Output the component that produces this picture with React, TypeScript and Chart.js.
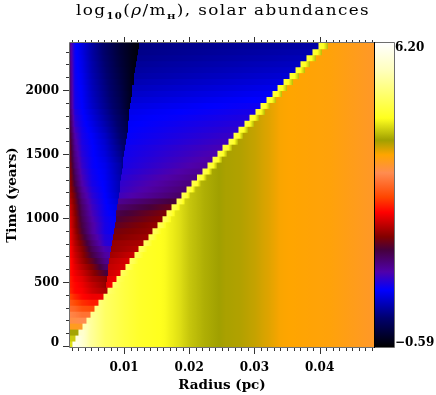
import React, { useEffect, useRef } from "react";
import { Chart, registerables } from "chart.js";

Chart.register(...registerables);

// Time of each simulation output (years), bottom row first
const rowTimes = [
  23.3, 69.9, 116.5, 163.1, 209.7, 256.3, 302.9, 349.5, 396.1, 442.7,
  489.3, 535.9, 582.5, 629.1, 675.7, 722.3, 768.9, 815.5, 862.1, 908.7,
  955.3, 1001.9, 1048.5, 1095.1, 1141.7, 1188.3, 1234.9, 1281.5, 1328.1, 1374.7,
  1421.3, 1467.9, 1514.5, 1561.1, 1607.7, 1654.3, 1700.9, 1747.5, 1794.1, 1840.7,
  1887.3, 1933.9, 1980.5, 2027.1, 2073.7, 2120.3, 2166.9, 2213.5, 2260.1, 2306.7, 2353.3,
];

// Shock radius per row (pc)
const shockRadius = [
  0.00202, 0.00248, 0.00294, 0.00356, 0.00417, 0.00479, 0.0054, 0.00601, 0.00678, 0.00739,
  0.00816, 0.00877, 0.00939, 0.01015, 0.01077, 0.01153, 0.01215, 0.01291, 0.01368, 0.01429,
  0.01506, 0.01583, 0.01644, 0.01721, 0.01798, 0.01874, 0.01951, 0.02028, 0.02112, 0.02196,
  0.02273, 0.0235, 0.02426, 0.02503, 0.02595, 0.02672, 0.02748, 0.0284, 0.02917, 0.03009,
  0.03086, 0.03178, 0.0327, 0.03347, 0.03439, 0.03531, 0.03623, 0.03699, 0.03791, 0.03883, 0.03975,
];

// Density just behind the shock, at the bright front cell
const shockPeak = [
  6.1, 5.9, 5.7, 5.5, 5.4, 5.3, 5.2, 5.2, 5.1, 5.1,
  5.1, 5.0, 5.0, 5.0, 5.0, 5.0, 5.0, 5.0, 4.95, 4.95,
  4.95, 4.95, 4.9, 4.9, 4.9, 4.9, 4.85, 4.85, 4.85, 4.85,
  4.8, 4.8, 4.8, 4.8, 4.8, 4.8, 4.75, 4.75, 4.75, 4.75,
  4.75, 4.75, 4.75, 4.7, 4.7, 4.7, 4.7, 4.7, 4.7, 4.7, 4.7,
];

// Contact discontinuity radius (pc), rows 10 and up
const contactRadius = [
  0.00724, 0.00739, 0.00755, 0.00762, 0.0077, 0.00785, 0.00801, 0.00816, 0.00831, 0.00847,
  0.00862, 0.0087, 0.00877, 0.00893, 0.00908, 0.00923, 0.00939, 0.00946, 0.00954, 0.00969,
  0.00985, 0.00992, 0.01, 0.01015, 0.01031, 0.01046, 0.01054, 0.01061, 0.01077, 0.01084,
  0.01092, 0.01107, 0.01123, 0.0113, 0.01146, 0.01161, 0.01176, 0.01184, 0.01199, 0.01215, 0.0123,
];
const contactIn = [
  1.9, 1.85, 1.55, 1.35, 1.2, 1.1, 1.0, 0.85, 0.8, 0.72,
  0.7, 0.68, 0.62, 0.55, 0.48, 0.4, 0.35, 0.3, 0.25, 0.2,
  0.15, 0.1, 0.05, 0, -0.05, -0.1, -0.15, -0.2, -0.27, -0.33,
  -0.4, -0.42, -0.44, -0.46, -0.48, -0.5, -0.51, -0.52, -0.53, -0.54, -0.55,
];
const shellOut = [
  2.3, 2.3, 2.2, 2.15, 2.1, 2.0, 1.95, 1.95, 1.85, 1.8,
  1.7, 1.6, 1.5, 1.35, 1.2, 1.0, 0.95, 0.92, 0.88, 0.84,
  0.8, 0.78, 0.76, 0.75, 0.72, 0.7, 0.68, 0.66, 0.63, 0.6,
  0.55, 0.5, 0.45, 0.4, 0.35, 0.3, 0.27, 0.24, 0.2, 0.17, 0.15,
];
const shellIn = [
  2.4, 2.35, 2.3, 2.25, 2.25, 2.2, 2.1, 2.05, 2.0, 1.95,
  1.95, 1.9, 1.85, 1.75, 1.6, 1.4, 1.35, 1.3, 1.25, 1.2,
  1.15, 1.12, 1.08, 1.05, 1.0, 0.96, 0.92, 0.88, 0.84, 0.8,
  0.75, 0.7, 0.65, 0.6, 0.55, 0.5, 0.46, 0.42, 0.38, 0.34, 0.3,
];

// Inner (free wind) density per row at fixed radii
const innerRadii = [0.00172, 0.00248, 0.00356, 0.0051, 0.00709, 0.00939];
const innerRows = [
  [4.35], [4.25, 4.25], [4.05, 4.05], [3.55, 3.55, 3.5], [3.35, 3.35, 3.3],
  [3.25, 3.2, 3.1], [3.05, 3, 2.85, 2.8], [2.9, 2.8, 2.65, 2.55], [2.75, 2.6, 2.45, 2.35], [2.6, 2.45, 2.4, 2.2, 2.05],
  [2.55, 2.45, 2.35, 2.15, 1.95], [2.55, 2.4, 2.3, 2.05, 1.9], [2.5, 2.35, 2.2, 1.95, 1.6], [2.5, 2.3, 2.1, 1.85, 1.4], [2.5, 2.25, 2, 1.7, 1.25],
  [2.45, 2.2, 1.95, 1.55, 1.15], [2.45, 2.15, 1.9, 1.45, 1.05], [2.4, 2.1, 1.8, 1.35, 0.9], [2.35, 2.05, 1.7, 1.25, 0.85], [2.35, 2, 1.6, 1.15, 0.8],
  [2.3, 1.95, 1.55, 1.15, 0.8], [2.28, 1.95, 1.5, 1.1, 0.78], [2.25, 1.9, 1.45, 1.05, 0.75], [2.2, 1.85, 1.4, 1, 0.72], [2.12, 1.8, 1.33, 0.95, 0.7],
  [2.05, 1.75, 1.25, 0.9, 0.68], [2, 1.65, 1.18, 0.85, 0.66, 0.4], [1.97, 1.55, 1.1, 0.8, 0.65, 0.35], [1.93, 1.48, 1.05, 0.77, 0.63, 0.33], [1.9, 1.42, 1, 0.75, 0.62, 0.3],
  [1.85, 1.35, 0.95, 0.72, 0.6, 0.3], [1.8, 1.3, 0.92, 0.72, 0.57, 0.25], [1.78, 1.25, 0.88, 0.7, 0.53, 0.2], [1.75, 1.2, 0.85, 0.7, 0.5, 0.15], [1.7, 1.15, 0.82, 0.68, 0.47, 0.1],
  [1.65, 1.1, 0.8, 0.66, 0.43, 0.06], [1.6, 1.02, 0.78, 0.62, 0.38, 0.03], [1.55, 0.95, 0.75, 0.58, 0.33, 0], [1.5, 0.9, 0.73, 0.54, 0.28, -0.03], [1.45, 0.85, 0.7, 0.5, 0.24, -0.07],
  [1.4, 0.8, 0.68, 0.45, 0.2, -0.1], [1.39, 0.79, 0.67, 0.43, 0.18, -0.12], [1.38, 0.78, 0.66, 0.41, 0.16, -0.14], [1.37, 0.77, 0.65, 0.39, 0.14, -0.16], [1.36, 0.76, 0.63, 0.37, 0.12, -0.18],
  [1.35, 0.75, 0.62, 0.35, 0.1, -0.2], [1.33, 0.74, 0.6, 0.33, 0.08, -0.22], [1.31, 0.74, 0.59, 0.32, 0.06, -0.24], [1.29, 0.73, 0.58, 0.3, 0.04, -0.25], [1.27, 0.73, 0.56, 0.29, 0.02, -0.27],
  [1.25, 0.72, 0.55, 0.28, 0, -0.28],
];

// Undisturbed ambient density profile
const ambientRadii = [0.00172, 0.00248, 0.00356, 0.00479, 0.00709, 0.01015, 0.01245, 0.01629, 0.01859, 0.02012, 0.02242, 0.0255, 0.0278, 0.0301, 0.0324, 0.03393, 0.03546, 0.0416, 0.04834];
const ambientDensity = [6.2, 6.1, 5.8, 5.4, 5.0, 4.75, 4.6, 4.5, 4.35, 4.22, 4.1, 4.0, 3.97, 3.9, 3.8, 3.72, 3.7, 3.65, 3.5];

// Colour table
const colorValues = [-0.59, 0.06, 0.68, 1.09, 1.58, 1.87, 2.42, 2.76, 3.3, 3.7, 4.03, 4.52, 5.6, 6.2];
const colorRGB = [
  [0, 0, 0], [0, 0, 110], [0, 0, 255], [80, 0, 170], [70, 0, 60], [130, 0, 0], [255, 0, 0],
  [255, 70, 0], [255, 140, 80], [255, 165, 0], [160, 160, 0], [255, 255, 30], [255, 255, 190], [255, 255, 255],
];
const colorbarTicks = [-0.59, 6.2];

const R_MIN = 0.00172;
const R_MAX = 0.04834;
const T_MAX = 2375;
const FRONT_W = 0.00145;
const TEXT_FONT = "'DejaVu Serif'";

function cmap(v: number) {
  if (v <= colorValues[0]) return `rgb(${colorRGB[0].join(",")})`;
  for (let i = 1; i < colorValues.length; i++) {
    if (v <= colorValues[i]) {
      const f = (v - colorValues[i - 1]) / (colorValues[i] - colorValues[i - 1]);
      const c = colorRGB[i].map((b, j) => Math.round(colorRGB[i - 1][j] + (b - colorRGB[i - 1][j]) * f));
      return `rgb(${c.join(",")})`;
    }
  }
  return "rgb(255,255,255)";
}

function ambientAt(r: number) {
  for (let i = 1; i < ambientRadii.length; i++) {
    if (r <= ambientRadii[i]) {
      const f = (r - ambientRadii[i - 1]) / (ambientRadii[i] - ambientRadii[i - 1]);
      return ambientDensity[i - 1] + (ambientDensity[i] - ambientDensity[i - 1]) * f;
    }
  }
  return ambientDensity[ambientDensity.length - 1];
}

type Knot = { r: number; v: number };

function knotGradient(chart: any, knots: Knot[]) {
  const sx = chart.scales.x;
  const r0 = knots[0].r;
  const r1 = knots[knots.length - 1].r;
  const p0 = sx ? sx.getPixelForValue(r0) : NaN;
  const p1 = sx ? sx.getPixelForValue(r1) : NaN;
  if (!isFinite(p0) || !isFinite(p1)) return "#000";
  const g = chart.ctx.createLinearGradient(p0, 0, p1, 0);
  const span = r1 - r0 || 1;
  for (let i = 0; i < knots.length; i++) {
    const a = knots[i];
    const b = knots[i + 1];
    g.addColorStop(Math.min(1, Math.max(0, (a.r - r0) / span)), cmap(a.v));
    if (b && b.r > a.r) {
      for (let s = 1; s < 10; s++) {
        const f = s / 10;
        g.addColorStop(Math.min(1, (a.r + (b.r - a.r) * f - r0) / span), cmap(a.v + (b.v - a.v) * f));
      }
    }
  }
  return g;
}

function windKnots(k: number): Knot[] {
  const shock = shockRadius[k];
  const contact = k >= 10 ? contactRadius[k - 10] : null;
  const limit = contact ?? shock;
  const row = innerRows[k];
  const out: Knot[] = [];
  row.forEach((v, i) => {
    if (innerRadii[i] < limit) out.push({ r: innerRadii[i], v });
  });
  if (contact != null) {
    out.push({ r: contact, v: contactIn[k - 10] });
    out.push({ r: contact, v: shellOut[k - 10] });
    out.push({ r: shock, v: shellIn[k - 10] });
  } else {
    out.push({ r: shock, v: row[row.length - 1] });
  }
  return out;
}

function frontKnots(k: number): Knot[] {
  const s = shockRadius[k];
  const p = shockPeak[k];
  const end = s + FRONT_W;
  return [
    { r: s, v: p },
    { r: s + 0.0008, v: Math.max(p - 0.15, ambientAt(s + 0.0008)) },
    { r: end, v: Math.max(4.2, ambientAt(end)) },
  ];
}

const windData = rowTimes.map((t, k) => ({ x: [R_MIN, shockRadius[k]], y: t }));
const frontData = rowTimes.map((t, k) => ({ x: [shockRadius[k], shockRadius[k] + FRONT_W], y: t }));
const ambientData = rowTimes.map((t, k) => ({ x: [shockRadius[k] + FRONT_W, R_MAX], y: t }));

const AXIS_GRAY = "#6e6e6e";

const framePlugin = {
  id: "frame",
  afterDraw(chart: any) {
    const { ctx, chartArea: a, scales } = chart;
    ctx.save();
    ctx.lineWidth = 1;
    ctx.strokeStyle = "#333";
    ctx.beginPath();
    for (const t of scales.x.ticks) {
      const p = Math.round(scales.x.getPixelForValue(t.value)) + 0.5;
      const major = Math.abs(t.value * 100 - Math.round(t.value * 100)) < 1e-6;
      ctx.moveTo(p, a.bottom);
      ctx.lineTo(p, a.bottom + (major ? 7 : 4));
      ctx.moveTo(p, a.top);
      ctx.lineTo(p, a.top - (major ? 6 : 3));
    }
    for (const t of scales.y.ticks) {
      const p = Math.round(scales.y.getPixelForValue(t.value)) - 0.5;
      const major = t.value % 500 === 0;
      ctx.moveTo(a.left, p);
      ctx.lineTo(a.left - (major ? 7 : 4), p);
    }
    ctx.stroke();
    ctx.strokeStyle = AXIS_GRAY;
    ctx.beginPath();
    ctx.moveTo(a.left - 0.5, a.bottom + 0.5);
    ctx.lineTo(a.left - 0.5, a.top - 0.5);
    ctx.lineTo(a.right, a.top - 0.5);
    ctx.moveTo(a.left - 0.5, a.bottom + 0.5);
    ctx.lineTo(a.right, a.bottom + 0.5);
    ctx.stroke();
    ctx.strokeStyle = "#000";
    ctx.beginPath();
    ctx.moveTo(a.right + 0.5, a.top - 1);
    ctx.lineTo(a.right + 0.5, a.bottom + 1);
    ctx.stroke();

    // title with subscripts
    const parts: [string, string, number][] = [
      ["log", "15px " + TEXT_FONT, 0],
      ["10", "bold 9px " + TEXT_FONT, 4],
      ["(", "15px " + TEXT_FONT, 0],
      ["\u03c1", "italic 15px " + TEXT_FONT, 0],
      ["/m", "15px " + TEXT_FONT, 0],
      ["H", "bold 8px " + TEXT_FONT, 4],
      ["), solar abundances", "15px " + TEXT_FONT, 0],
    ];
    let x = 0;
    ctx.translate(76, 0);
    ctx.scale(1.12, 1);
    ctx.fillStyle = "#000";
    ctx.textBaseline = "alphabetic";
    ctx.textAlign = "left";
    ctx.letterSpacing = "1.25px";
    for (const [s, f, dy] of parts) {
      ctx.font = f;
      ctx.fillText(s, x, 15 + dy);
      x += ctx.measureText(s).width;
    }
    ctx.restore();
  },
};

const barPlugin = {
  id: "barFrame",
  afterDraw(chart: any) {
    const { ctx, chartArea: a } = chart;
    ctx.save();
    ctx.strokeStyle = AXIS_GRAY;
    ctx.lineWidth = 1;
    ctx.beginPath();
    ctx.moveTo(a.left, a.top - 0.5);
    ctx.lineTo(a.right + 0.5, a.top - 0.5);
    ctx.lineTo(a.right + 0.5, a.bottom + 0.5);
    ctx.lineTo(a.left, a.bottom + 0.5);
    ctx.stroke();
    ctx.restore();
  },
};

export default function App() {
  const mainRef = useRef<HTMLCanvasElement>(null);
  const barRef = useRef<HTMLCanvasElement>(null);

  useEffect(() => {
    document.body.style.margin = "0";
    const rowBar = {
      grouped: false,
      categoryPercentage: 1,
      barPercentage: 1,
      borderWidth: 0,
      inflateAmount: 0.5,
      borderSkipped: false,
    };
    const tickFont = { family: TEXT_FONT, size: 12, weight: "bold" as const, lineHeight: 0.75 };
    const titleFont = { family: TEXT_FONT, size: 13.5, weight: "bold" as const };

    const main = new Chart(mainRef.current!, {
      type: "bar",
      data: {
        datasets: [
          {
            label: "Wind and shell",
            data: windData as any,
            ...rowBar,
            backgroundColor: (c: any) =>
              c.dataIndex == null ? "#000" : knotGradient(c.chart, windKnots(c.dataIndex)),
          },
          {
            label: "Shock front",
            data: frontData as any,
            ...rowBar,
            backgroundColor: (c: any) =>
              c.dataIndex == null ? "#000" : knotGradient(c.chart, frontKnots(c.dataIndex)),
          },
          {
            label: "Ambient medium",
            data: ambientData as any,
            ...rowBar,
            backgroundColor: (c: any) =>
              c.dataIndex == null
                ? "#000"
                : knotGradient(
                    c.chart,
                    ambientRadii.map((r, i) => ({ r, v: ambientDensity[i] })),
                  ),
          },
        ],
      },
      options: {
        indexAxis: "y",
        animation: false,
        responsive: false,
        layout: { padding: { top: 43, right: 62, left: 0, bottom: 0 } },
        plugins: { legend: { display: false }, tooltip: { enabled: false }, title: { display: false } },
        scales: {
          x: {
            type: "linear",
            offset: false,
            min: R_MIN,
            max: R_MAX,
            grid: { display: false, drawTicks: false },
            border: { display: false },
            afterFit: (s: any) => {
              s.height = 48;
            },
            title: {
              display: true,
              text: "Radius (pc)",
              color: "#000",
              font: titleFont,
              padding: { top: 0, bottom: 1 },
            },
            ticks: {
              stepSize: 0.001,
              includeBounds: false,
              autoSkip: false,
              maxRotation: 0,
              color: "#000",
              font: tickFont,
              padding: 16,
              callback: (v: any) => {
                const n = Number(v);
                return Math.abs(n * 100 - Math.round(n * 100)) < 1e-6 ? n.toFixed(2) : "";
              },
            },
          },
          y: {
            type: "linear",
            offset: false,
            min: 0,
            max: T_MAX,
            grid: { display: false, drawTicks: false },
            border: { display: false },
            afterFit: (s: any) => {
              s.width = 70;
            },
            title: {
              display: true,
              text: "Time (years)",
              color: "#000",
              font: titleFont,
              padding: { top: 4, bottom: 0 },
            },
            ticks: {
              stepSize: 100,
              includeBounds: false,
              autoSkip: false,
              color: "#000",
              font: tickFont,
              padding: 11,
              callback: (v: any) => {
                const n = Number(v);
                if (n === 0) return ["0", ""];
                return n % 500 === 0 ? String(n) : "";
              },
            },
          },
        },
      },
      plugins: [framePlugin],
    } as any);

    const bar = new Chart(barRef.current!, {
      type: "bar",
      data: {
        labels: ["density"],
        datasets: [
          {
            label: "Colour scale",
            data: [[colorValues[0], colorValues[colorValues.length - 1]]] as any,
            categoryPercentage: 1,
            barPercentage: 1,
            borderWidth: 0,
            inflateAmount: 0,
            backgroundColor: (c: any) => {
              if (c.dataIndex == null) return "#000";
              const sy = c.chart.scales.y;
              const y0 = sy ? sy.getPixelForValue(colorValues[0]) : NaN;
              const y1 = sy ? sy.getPixelForValue(colorValues[colorValues.length - 1]) : NaN;
              if (!isFinite(y0) || !isFinite(y1)) return "#000";
              const g = c.chart.ctx.createLinearGradient(0, y0, 0, y1);
              const span = colorValues[colorValues.length - 1] - colorValues[0];
              colorValues.forEach((v, i) => {
                g.addColorStop((v - colorValues[0]) / span, `rgb(${colorRGB[i].join(",")})`);
              });
              return g;
            },
          },
        ],
      },
      options: {
        animation: false,
        responsive: false,
        layout: { padding: { top: 43, right: 0, left: 375, bottom: 48 } },
        plugins: { legend: { display: false }, tooltip: { enabled: false }, title: { display: false } },
        scales: {
          x: { display: false },
          y: {
            position: "right",
            min: colorValues[0],
            max: colorValues[colorValues.length - 1],
            grid: { display: false, drawTicks: false },
            border: { display: false },
            afterFit: (s: any) => {
              s.width = 42;
            },
            afterBuildTicks: (s: any) => {
              s.ticks = colorbarTicks.map((value) => ({ value }));
            },
            ticks: {
              color: "#000",
              font: tickFont,
              padding: 1,
              callback: (v: any) => (Number(v) > 0 ? ["", "6.20"] : ["\u22120.59", ""]),
            },
          },
        },
      },
      plugins: [barPlugin],
    } as any);

    return () => {
      main.destroy();
      bar.destroy();
    };
  }, []);

  const style: React.CSSProperties = { position: "absolute", left: 0, top: 0, display: "block" };
  return (
    <div style={{ position: "relative", width: 436, height: 395 }}>
      <canvas ref={mainRef} width={436} height={395} style={style} />
      <canvas ref={barRef} width={436} height={395} style={{ ...style, pointerEvents: "none" }} />
    </div>
  );
}
